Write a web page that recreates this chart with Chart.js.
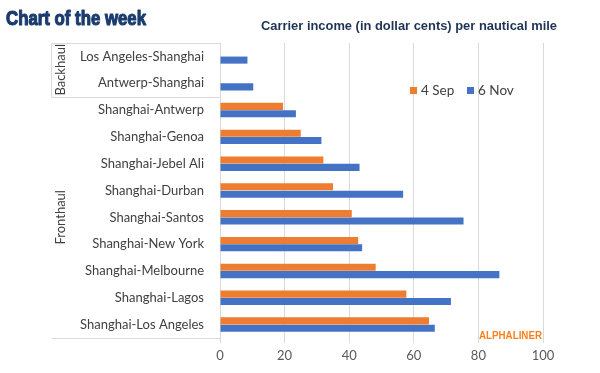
<!DOCTYPE html>
<html>
<head>
<meta charset="utf-8">
<script src="https://cdn.jsdelivr.net/npm/chart.js@4.4.1/dist/chart.umd.min.js"></script>
<style>
html,body{margin:0;padding:0;background:#fff;}
#wrap{width:600px;height:373px;position:relative;}
</style>
</head>
<body>
<div id="wrap"><canvas id="c" width="600" height="373"></canvas></div>
<script>
const routes = [
  "Los Angeles-Shanghai","Antwerp-Shanghai","Shanghai-Antwerp","Shanghai-Genoa",
  "Shanghai-Jebel Ali","Shanghai-Durban","Shanghai-Santos","Shanghai-New York",
  "Shanghai-Melbourne","Shanghai-Lagos","Shanghai-Los Angeles"
];
const sep4 = [null, null, 19.5, 25, 32, 35, 40.8, 42.8, 48.2, 57.7, 64.7];
const nov6 = [8.5, 10.3, 23.5, 31.4, 43.2, 56.7, 75.4, 44, 86.5, 71.5, 66.5];
const xTicks = [0, 20, 40, 60, 80, 100];
const groups = [
  {name: "Backhaul", from: 0, to: 1},
  {name: "Fronthaul", from: 2, to: 10}
];
const seriesNames = ["4 Sep", "6 Nov"];
const chartTitle = "Chart of the week";
const chartSubtitle = "Carrier income (in dollar cents) per nautical mile";
const sourceText = "ALPHALINER";

const ORANGE = "#ED7D31", BLUE = "#4472C4";
const labelFont = "Lato, 'Open Sans', sans-serif";

function fitText(ctx, text, x, y, width, stroke) {
  const w = ctx.measureText(text).width;
  ctx.save();
  ctx.translate(x, y);
  ctx.scale(width / w, 1);
  ctx.fillText(text, 0, 0);
  if (stroke) {
    ctx.strokeStyle = ctx.fillStyle;
    ctx.lineWidth = stroke;
    ctx.lineJoin = "round";
    ctx.strokeText(text, 0, 0);
  }
  ctx.restore();
}

const decor = {
  id: 'decor',
  afterDraw(chart) {
    const ctx = chart.ctx;
    const y = chart.scales.y;
    const area = chart.chartArea;
    ctx.save();
    // titles
    ctx.fillStyle = "#1b3c6e";
    ctx.font = "bold 21px 'Liberation Sans', Arial, sans-serif";
    ctx.textBaseline = "alphabetic";
    ctx.textAlign = "left";
    fitText(ctx, chartTitle, 6, 25, 140, 1.2);
    ctx.fillStyle = "#1f3354";
    ctx.font = "bold 13px 'Liberation Sans', Arial, sans-serif";
    fitText(ctx, chartSubtitle, 261, 30, 296);

    // category box lines
    ctx.strokeStyle = "#d9d9d9";
    ctx.lineWidth = 1;
    const half = (y.getPixelForValue(1) - y.getPixelForValue(0)) / 2;
    const bx = 51.5;
    ctx.beginPath();
    ctx.moveTo(bx, area.top + 0.5); ctx.lineTo(area.left, area.top + 0.5);
    const sepY = Math.round(y.getPixelForValue(groups[0].to) + half) + 0.5;
    ctx.moveTo(bx, area.top); ctx.lineTo(bx, sepY);
    ctx.moveTo(bx, sepY); ctx.lineTo(area.left, sepY);
    ctx.moveTo(bx, Math.round(area.bottom) + 0.5); ctx.lineTo(area.left, Math.round(area.bottom) + 0.5);
    ctx.stroke();

    // group labels
    ctx.fillStyle = "#404040";
    ctx.font = "13px " + labelFont;
    ctx.textAlign = "center";
    ctx.textBaseline = "middle";
    groups.forEach(g => {
      const cy = (y.getPixelForValue(g.from) + y.getPixelForValue(g.to)) / 2;
      ctx.save();
      ctx.translate(61, cy);
      ctx.rotate(-Math.PI / 2);
      ctx.fillText(g.name, 0, 0);
      ctx.restore();
    });

    // legend
    const legendX = [410, 467];
    ctx.font = "13.5px " + labelFont;
    ctx.textAlign = "left";
    chart.data.datasets.forEach((ds, i) => {
      ctx.fillStyle = ds.backgroundColor;
      ctx.fillRect(legendX[i], 87, 7, 7);
      ctx.fillStyle = "#404040";
      ctx.fillText(ds.label, legendX[i] + 11, 90.5);
    });

    // source
    ctx.fillStyle = "#FF7F1A";
    ctx.font = "bold 10px 'Liberation Sans', Arial, sans-serif";
    ctx.textBaseline = "middle";
    fitText(ctx, sourceText, 479, 336.5, 63);
    ctx.restore();
  }
};

new Chart(document.getElementById('c'), {
  type: 'bar',
  data: {
    labels: routes,
    datasets: [
      {label: seriesNames[0], data: sep4, backgroundColor: ORANGE, categoryPercentage: 0.55, barPercentage: 0.96},
      {label: seriesNames[1], data: nov6, backgroundColor: BLUE, categoryPercentage: 0.55, barPercentage: 0.96}
    ]
  },
  options: {
    indexAxis: 'y',
    responsive: false,
    animation: false,
    devicePixelRatio: 1,
    layout: {padding: {top: 43, right: 57, bottom: 0, left: 0}},
    plugins: {legend: {display: false}, tooltip: {enabled: false}, title: {display: false}},
    scales: {
      x: {
        min: 0, max: 100,
        afterBuildTicks(scale) { scale.ticks = xTicks.map(v => ({value: v})); },
        afterFit(scale) { scale.height = 35; },
        grid: {color: "#d9d9d9", drawTicks: true, tickLength: 5, tickColor: "#d9d9d9"},
        border: {display: false},
        ticks: {color: "#595959", font: {family: labelFont, size: 13}, padding: 5}
      },
      y: {
        afterFit(scale) { scale.width = 220; },
        grid: {display: false},
        border: {display: true, color: "#d9d9d9"},
        ticks: {color: "#404040", font: {family: labelFont, size: 13}, padding: 8, autoSkip: false}
      }
    }
  },
  plugins: [decor]
});
</script>
</body>
</html>
